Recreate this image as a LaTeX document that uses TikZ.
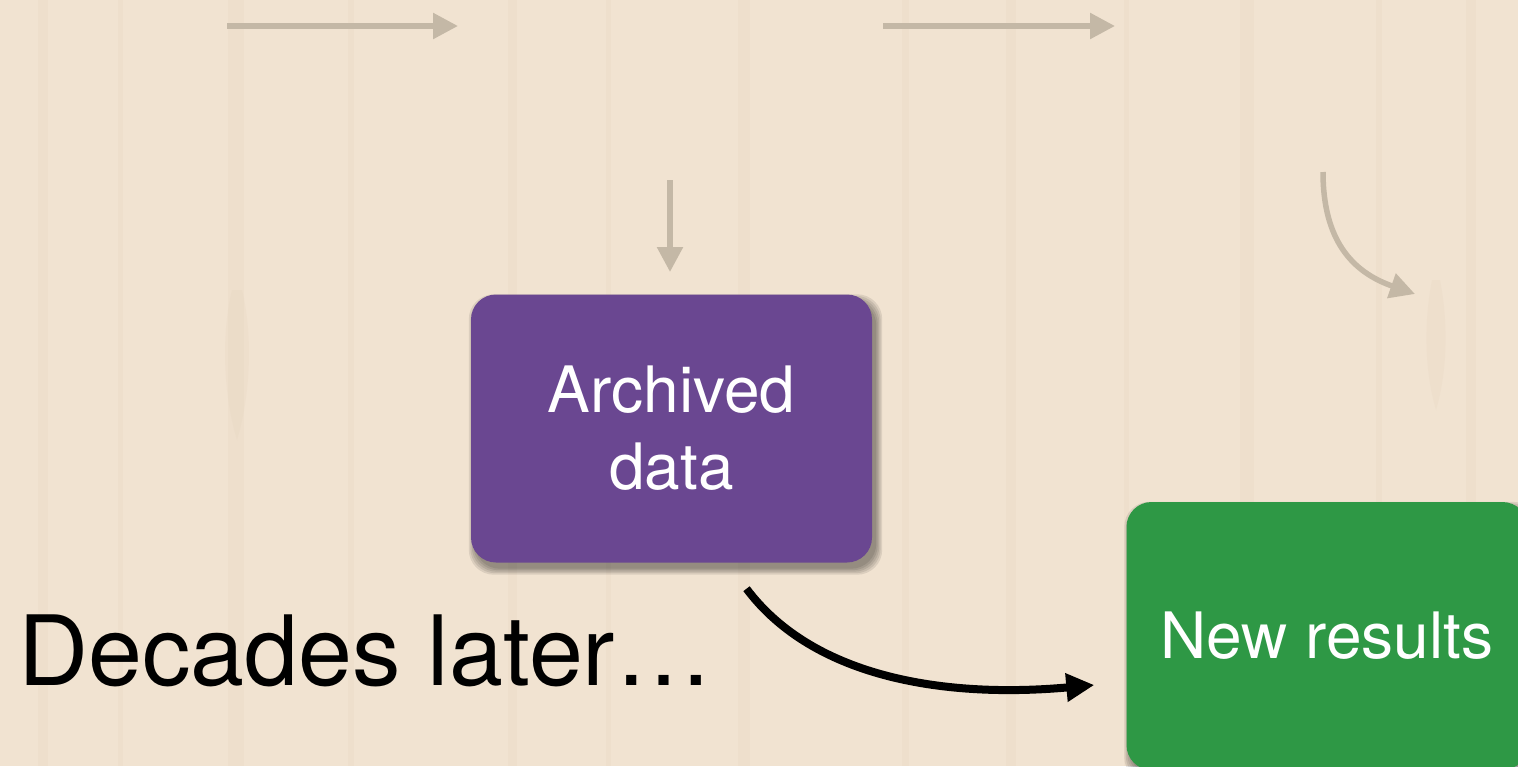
\documentclass[tikz,border=0pt]{standalone}
\usepackage{fontspec}
\setmainfont{TeX Gyre Heros}
\usetikzlibrary{arrows.meta,calc,backgrounds}
\definecolor{wood}{RGB}{241,227,209}
\definecolor{woodgrain}{RGB}{222,204,182}
\definecolor{faint}{RGB}{196,184,166}
\definecolor{archpurple}{RGB}{106,71,145}
\definecolor{resgreen}{RGB}{46,152,69}
\tikzset{
  card/.style={rounded corners=25pt, minimum width=401pt, minimum height=268pt,
    text=white, align=center, font=\fontsize{64}{77}\selectfont, inner sep=0pt},
  ghost/.style={draw=faint, line width=5.5pt, -{Triangle[length=25pt,width=25pt]}},
  link/.style={draw=black, line width=8pt, -{Triangle[length=28pt,width=27pt]}},
  grain/.style={fill=woodgrain, opacity=0.15},
  softshadow/.style={fill=black, opacity=0.09, rounded corners=25pt}
}
% soft shadow below and right of a card
\newcommand{\cardshadow}[1]{%
  \foreach \s in {0,1.5,...,6}
    \fill[softshadow] ($(#1.north west)+(4-\s,6-\s)$) rectangle ($(#1.south east)+(4+\s,6+\s)$);}
\begin{document}
\begin{tikzpicture}[x=1pt,y=-1pt]
  \useasboundingbox (0,0) rectangle (1518,766);
  \clip (0,0) rectangle (1518,766);

  % cards
  \node[card, fill=archpurple] (arch) at (671.5,428.5) {Archived\\data};
  \node[card, fill=resgreen] (res) at (1327,636) {New results};

  \begin{scope}[on background layer]
    % wooden table top
    \fill[wood] (0,0) rectangle (1518,766);
    \foreach \x/\w in {38/10, 118/5, 228/16, 348/6, 508/9, 606/5, 738/12, 902/7, 1006/10, 1124/5, 1240/14, 1376/6, 1466/10}
      \fill[grain] (\x,0) rectangle ++(\w,766);
    \fill[grain] (232,290) .. controls (222,330) and (222,390) .. (237,440)
                   .. controls (252,390) and (252,330) .. (242,290) -- cycle;
    \fill[grain] (1432,280) .. controls (1424,320) and (1424,370) .. (1436,410)
                   .. controls (1448,370) and (1448,320) .. (1440,280) -- cycle;
    \cardshadow{arch}
    \cardshadow{res}
  \end{scope}

  % faint upstream steps
  \coordinate (a1) at (227,26);  \coordinate (a2) at (458,26);
  \coordinate (b1) at (883,26);  \coordinate (b2) at (1115,26);
  \coordinate (c1) at (670,180); \coordinate (c2) at (670,272);
  \coordinate (d1) at (1323,172); \coordinate (d2) at (1415,294);
  \draw[ghost] (a1) -- (a2);
  \draw[ghost] (b1) -- (b2);
  \draw[ghost] (c1) -- (c2);
  \draw[ghost] (d1) .. controls (1323,240) and (1352,272) .. (d2);

  % caption
  \node[anchor=base west, inner sep=0pt, font=\fontsize{97}{110}\selectfont] (later) at (18,685) {Decades later…};

  % reuse link
  \coordinate (e1) at ([xshift=75pt,yshift=-26pt]arch.south);
  \coordinate (e2) at ([xshift=-32pt,yshift=-49pt]res.west);
  \draw[link] (e1) .. controls (815,680) and (950,698) .. (e2);
\end{tikzpicture}
\end{document}
